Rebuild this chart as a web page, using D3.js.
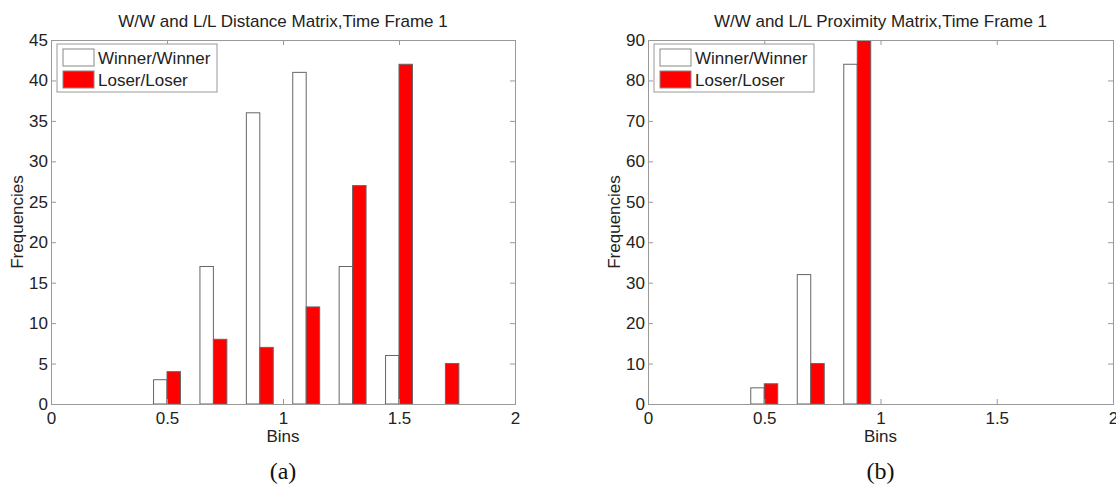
<!DOCTYPE html>
<html>
<head>
<meta charset="utf-8">
<script src="https://cdn.jsdelivr.net/npm/d3@7"></script>
<style>
  body { margin: 0; background: #fff; }
  svg { display: block; font-family: "Liberation Sans", Arial, sans-serif; }
  .axis path, .axis line { stroke: #999; }
  .axis text { fill: #222; font-size: 17px; }
</style>
</head>
<body>
<svg id="chart" width="1116" height="486"></svg>
<script>
// histogram bin centres (shared by both panels)
const bins = [0.1, 0.3, 0.5, 0.7, 0.9, 1.1, 1.3, 1.5, 1.7, 1.9];
const seriesNames = ['Winner/Winner', 'Loser/Loser'];
const seriesColors = ['#ffffff', '#ff0000'];

// panel (a) distance matrix
const distWinner = [0, 0, 3, 17, 36, 41, 17, 6, 0, 0];
const distLoser = [0, 0, 4, 8, 7, 12, 27, 42, 5, 0];
const distYTicks = [0, 5, 10, 15, 20, 25, 30, 35, 40, 45];

// panel (b) proximity matrix
const proxWinner = [0, 0, 4, 32, 84, 0, 0, 0, 0, 0];
const proxLoser = [0, 0, 5, 10, 90, 0, 0, 0, 0, 0];
const proxYTicks = [0, 10, 20, 30, 40, 50, 60, 70, 80, 90];

const xTicks = [0, 0.5, 1, 1.5, 2];

const svg = d3.select('#chart');
svg.append('rect').attr('width', 1116).attr('height', 486).attr('fill', '#fff');

function drawPanel(opt) {
  const { left, right, top, bottom } = opt;
  const g = svg.append('g');

  const x = d3.scaleLinear().domain([0, 2]).range([left, right]);
  const y = d3.scaleLinear().domain([0, d3.max(opt.yTicks)]).range([bottom, top]);

  // bar width: matlab grouped bar, 2 series
  const binStep = bins[1] - bins[0];
  const bw = x(binStep * 0.29) - x(0);

  const clipId = 'clip' + opt.id;
  g.append('clipPath').attr('id', clipId)
    .append('rect')
    .attr('x', left).attr('y', top)
    .attr('width', right - left).attr('height', bottom - top);

  const bars = g.append('g').attr('clip-path', `url(#${clipId})`);
  opt.series.forEach((vals, si) => {
    const pts = bins.map((b, i) => ({ b, v: vals[i] })).filter(d => d.v > 0);
    bars.selectAll('.bar' + si)
      .data(pts)
      .enter()
      .append('rect')
      .attr('class', 'bar' + si)
      .attr('x', d => x(d.b) - bw + si * bw)
      .attr('y', d => y(d.v))
      .attr('width', bw)
      .attr('height', d => y(0) - y(d.v))
      .attr('fill', seriesColors[si])
      .attr('stroke', '#666')
      .attr('stroke-width', 1);
  });

  // axes, matlab style ticks pointing inward
  g.append('g').attr('class', 'axis')
    .attr('transform', `translate(0,${bottom})`)
    .call(d3.axisBottom(x).tickValues(xTicks).tickFormat(d3.format('')).tickSize(-5).tickPadding(8));
  g.append('g').attr('class', 'axis')
    .attr('transform', `translate(0,${top})`)
    .call(d3.axisTop(x).tickValues(xTicks).tickFormat('').tickSize(-5));
  g.append('g').attr('class', 'axis')
    .attr('transform', `translate(${left},0)`)
    .call(d3.axisLeft(y).tickValues(opt.yTicks).tickSize(-5).tickPadding(3));
  g.append('g').attr('class', 'axis')
    .attr('transform', `translate(${right},0)`)
    .call(d3.axisRight(y).tickValues(opt.yTicks).tickFormat('').tickSize(-5));
  g.selectAll('.axis .domain').attr('stroke', '#999');

  const cx = (left + right) / 2;
  g.append('text')
    .attr('x', cx).attr('y', 27)
    .attr('text-anchor', 'middle')
    .attr('font-size', 17).attr('fill', '#222')
    .text(opt.title);

  g.append('text')
    .attr('x', cx).attr('y', 442)
    .attr('text-anchor', 'middle')
    .attr('font-size', 17).attr('fill', '#222')
    .text('Bins');

  g.append('text')
    .attr('transform', `translate(${left - 28},${(top + bottom) / 2}) rotate(-90)`)
    .attr('text-anchor', 'middle')
    .attr('font-size', 17).attr('fill', '#222')
    .text('Frequencies');

  g.append('text')
    .attr('x', cx).attr('y', 479)
    .attr('text-anchor', 'middle')
    .attr('font-family', '"Liberation Serif", "Times New Roman", serif')
    .attr('font-size', 24).attr('fill', '#111')
    .text(opt.panel);

  // legend
  const lg = g.append('g').attr('transform', `translate(${left + 6},${top + 4})`);
  lg.append('rect')
    .attr('width', 160).attr('height', 48)
    .attr('fill', '#fff').attr('stroke', '#999');
  seriesNames.forEach((name, i) => {
    lg.append('rect')
      .attr('x', 6).attr('y', 5 + i * 22)
      .attr('width', 31).attr('height', 17)
      .attr('fill', seriesColors[i]).attr('stroke', '#888');
    lg.append('text')
      .attr('x', 41).attr('y', 20 + i * 22)
      .attr('font-size', 17).attr('fill', '#222')
      .text(name);
  });
}

drawPanel({
  id: 'a', left: 51, right: 515, top: 40, bottom: 404,
  series: [distWinner, distLoser], yTicks: distYTicks,
  title: 'W/W and L/L Distance Matrix,Time Frame 1', panel: '(a)'
});

drawPanel({
  id: 'b', left: 648, right: 1113, top: 40, bottom: 404,
  series: [proxWinner, proxLoser], yTicks: proxYTicks,
  title: 'W/W and L/L Proximity Matrix,Time Frame 1', panel: '(b)'
});
</script>
</body>
</html>
